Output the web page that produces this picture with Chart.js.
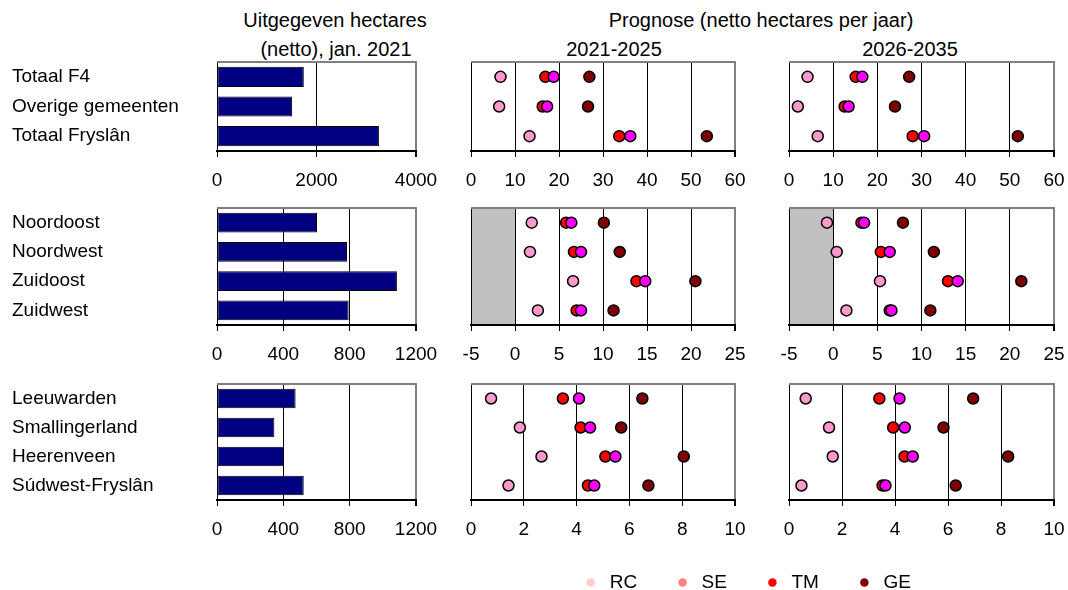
<!DOCTYPE html>
<html>
<head>
<meta charset="utf-8">
<script src="https://cdn.jsdelivr.net/npm/chart.js@4.4.1/dist/chart.umd.min.js"></script>
<style>
  body { margin: 0; background: #fff; width: 1068px; height: 590px; position: relative; overflow: hidden;
         font-family: 'Liberation Sans', Arial, sans-serif; color: #000; }
  .panel { position: absolute; }
  .panel canvas { display: block; }
  .heading { position: absolute; font-size: 20px; line-height: 20px; white-space: nowrap; transform: translateX(-50%); }
</style>
</head>
<body>
<div class="heading" style="left:335px; top:10px">Uitgegeven hectares</div>
<div class="heading" style="left:336px; top:39px">(netto), jan. 2021</div>
<div class="heading" style="left:761px; top:10px">Prognose (netto hectares per jaar)</div>
<div class="heading" style="left:614px; top:39px">2021-2025</div>
<div class="heading" style="left:910px; top:39px">2026-2035</div>

<script>
Chart.defaults.font.family = "'Liberation Sans', Arial, sans-serif";
Chart.defaults.font.size = 19;
Chart.defaults.color = '#000';
Chart.defaults.animation = false;

// Scenarios
const seriesNames = ['RC', 'SE', 'TM', 'GE'];
const dotColors = ['#ff99cc', '#ff0000', '#ff00ff', '#800000'];
const legendColors = ['#ffcccc', '#ff8080', '#ff0000', '#800000'];

// Row groups
const labelsTotaal = ['Totaal F4', 'Overige gemeenten', 'Totaal Fryslân'];
const labelsRegio = ['Noordoost', 'Noordwest', 'Zuidoost', 'Zuidwest'];
const labelsGemeente = ['Leeuwarden', 'Smallingerland', 'Heerenveen', 'Súdwest-Fryslân'];

// Uitgegeven hectares (netto), jan. 2021
const hectaresTotaal = [1745, 1510, 3255];
const hectaresRegio = [603, 784, 1085, 794];
const hectaresGemeente = [474, 346, 404, 523];

// Prognose per scenario (RC, SE, TM, GE), netto hectares per jaar
const totaal2125 = [[6.7, 6.4, 13.3], [16.9, 16.3, 33.7], [18.8, 17.3, 36.2], [26.9, 26.6, 53.6]];
const totaal2635 = [[4.2, 2.0, 6.5], [15.1, 12.6, 28.0], [16.6, 13.5, 30.6], [27.2, 24.0, 51.8]];
const regio2125 = [[1.9, 1.7, 6.6, 2.6], [5.8, 6.7, 13.8, 7.0], [6.4, 7.5, 14.8, 7.5], [10.1, 11.9, 20.5, 11.2]];
const regio2635 = [[-0.7, 0.4, 5.3, 1.5], [3.2, 5.4, 13.0, 6.4], [3.5, 6.4, 14.1, 6.6], [7.9, 11.4, 21.3, 11.0]];
const gemeente2125 = [[0.76, 1.85, 2.67, 1.42], [3.48, 4.15, 5.09, 4.43], [4.09, 4.51, 5.47, 4.67], [6.49, 5.69, 8.06, 6.72]];
const gemeente2635 = [[0.63, 1.51, 1.65, 0.47], [3.41, 3.93, 4.36, 3.53], [4.17, 4.37, 4.67, 3.64], [6.95, 5.83, 8.27, 6.29]];

// Axis ranges per row
const barMax = [4000, 1200, 1200];
const barStep = [2000, 400, 400];
const dotMin = [0, -5, 0];
const dotMax = [60, 25, 10];
const dotStep = [10, 5, 2];

// Plot area positions
const rowTop = [62, 208, 384];
const rowBottom = [151, 325, 500];
const colLeft = [217, 471, 789];
const colRight = [416, 735, 1054];

// Grey band below zero and grey top border
const framePlugin = {
    id: 'frame',
    beforeDraw(chart) {
        const {ctx, chartArea: a} = chart;
        const x = chart.scales.x;
        if (x.min < 0) {
            const x0 = x.getPixelForValue(x.min);
            const x1 = x.getPixelForValue(0);
            ctx.save();
            ctx.fillStyle = '#c0c0c0';
            ctx.fillRect(x0, a.top, x1 - x0, a.bottom - a.top);
            ctx.restore();
        }
    },
    beforeDatasetsDraw(chart) {
        const {ctx, chartArea: a} = chart;
        ctx.save();
        ctx.strokeStyle = '#808080';
        ctx.lineWidth = 2;
        ctx.beginPath();
        ctx.moveTo(a.left, a.top);
        ctx.lineTo(a.right + 1, a.top);
        ctx.stroke();
        ctx.restore();
    }
};

function makeCanvas(left, top, width, height) {
    const div = document.createElement('div');
    div.className = 'panel';
    div.style.left = left + 'px';
    div.style.top = top + 'px';
    const canvas = document.createElement('canvas');
    canvas.width = width;
    canvas.height = height;
    div.appendChild(canvas);
    document.body.appendChild(div);
    return canvas;
}

function xAxis(min, max, step) {
    return {
        type: 'linear',
        min: min,
        max: max,
        ticks: {
            stepSize: step, padding: 12, maxRotation: 0, autoSkip: false, color: '#000',
            callback: v => String(v)
        },
        grid: {
            color: c => c.index === c.scale.ticks.length - 1 ? '#808080' : '#000',
            lineWidth: c => c.index === c.scale.ticks.length - 1 ? 2 : 1,
            tickColor: '#000',
            tickLength: 6
        },
        border: { color: '#000', width: 2 },
        afterFit: s => { s.height = 45; s.paddingLeft = 0; s.paddingRight = 0; }
    };
}

function barPanel(row, labels, values) {
    const top = rowTop[row] - 10;
    const canvas = makeCanvas(0, top, colRight[0] + 30, rowBottom[row] - rowTop[row] + 55);
    new Chart(canvas, {
        type: 'bar',
        data: {
            labels: labels,
            datasets: [{
                data: values,
                backgroundColor: '#000080',
                borderColor: '#000',
                borderWidth: 1,
                borderSkipped: false,
                barPercentage: 0.68,
                categoryPercentage: 1
            }]
        },
        options: {
            responsive: false,
            indexAxis: 'y',
            layout: { padding: { left: 12, right: 30, top: 10, bottom: 0 } },
            plugins: { legend: { display: false }, tooltip: { enabled: false } },
            scales: {
                x: xAxis(0, barMax[row], barStep[row]),
                y: {
                    type: 'category',
                    offset: true,
                    grid: { display: false },
                    border: { color: '#000', width: 1 },
                    ticks: { crossAlign: 'far', padding: 0, color: '#000' },
                    afterFit: s => { s.width = colLeft[0] - 12; s.paddingTop = 0; s.paddingBottom = 0; }
                }
            }
        },
        plugins: [framePlugin]
    });
}

function dotPanel(row, col, labels, series) {
    const padRight = col === 2 ? 14 : 30;
    const canvas = makeCanvas(colLeft[col] - 30, rowTop[row] - 10,
        colRight[col] - colLeft[col] + 30 + padRight, rowBottom[row] - rowTop[row] + 55);
    new Chart(canvas, {
        type: 'line',
        data: {
            labels: labels,
            datasets: seriesNames.map((name, i) => ({
                label: name,
                data: series[i],
                showLine: false,
                order: seriesNames.length - 1 - i,
                pointRadius: 5.5,
                pointHoverRadius: 5.5,
                pointBorderWidth: 1.5,
                pointBackgroundColor: dotColors[i],
                pointBorderColor: '#000',
                backgroundColor: dotColors[i],
                borderColor: '#000'
            }))
        },
        options: {
            responsive: false,
            indexAxis: 'y',
            layout: { padding: { left: 30, right: padRight, top: 10, bottom: 0 } },
            plugins: { legend: { display: false }, tooltip: { enabled: false } },
            scales: {
                x: xAxis(dotMin[row], dotMax[row], dotStep[row]),
                y: {
                    type: 'category',
                    offset: true,
                    grid: { display: false },
                    border: { color: '#000', width: 1 },
                    ticks: { display: false },
                    afterFit: s => { s.width = 0; s.paddingTop = 0; s.paddingBottom = 0; }
                }
            }
        },
        plugins: [framePlugin]
    });
}

barPanel(0, labelsTotaal, hectaresTotaal);
barPanel(1, labelsRegio, hectaresRegio);
barPanel(2, labelsGemeente, hectaresGemeente);

dotPanel(0, 1, labelsTotaal, totaal2125);
dotPanel(0, 2, labelsTotaal, totaal2635);
dotPanel(1, 1, labelsRegio, regio2125);
dotPanel(1, 2, labelsRegio, regio2635);
dotPanel(2, 1, labelsGemeente, gemeente2125);
dotPanel(2, 2, labelsGemeente, gemeente2635);

// Legend (canvas runs past the page bottom so the legend box gets enough height)
const legendCanvas = makeCanvas(506, 537, 480, 200);
new Chart(legendCanvas, {
    type: 'line',
    data: {
        labels: [],
        datasets: seriesNames.map((name, i) => ({
            label: name,
            data: [],
            backgroundColor: legendColors[i],
            borderColor: legendColors[i],
            pointBackgroundColor: legendColors[i],
            pointBorderColor: legendColors[i],
            pointBorderWidth: 0,
            borderWidth: 0
        }))
    },
    options: {
        responsive: false,
        layout: { padding: 0 },
        scales: { x: { display: false }, y: { display: false } },
        plugins: {
            tooltip: { enabled: false },
            legend: {
                display: true,
                position: 'top',
                labels: { usePointStyle: true, pointStyle: 'circle', boxHeight: 6, boxWidth: 19, padding: 36, color: '#000' }
            }
        }
    }
});
</script>
</body>
</html>
